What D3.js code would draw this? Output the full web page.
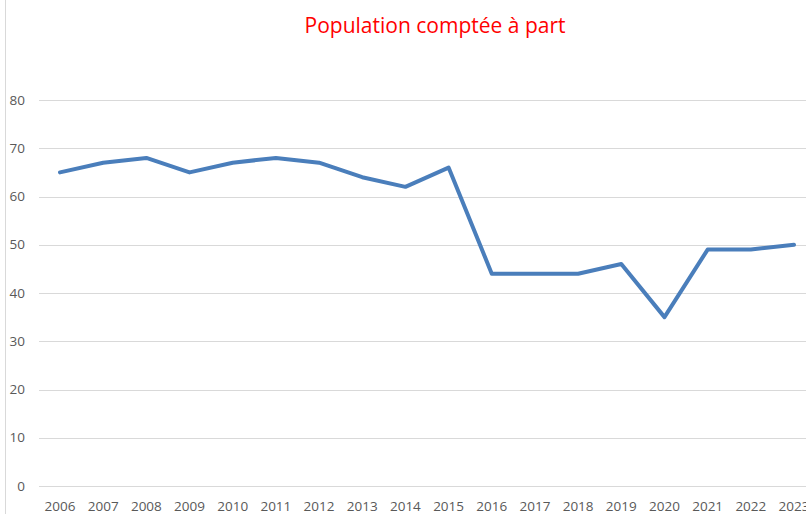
<!DOCTYPE html>
<html><head><meta charset="utf-8">
<script src="https://cdn.jsdelivr.net/npm/d3@7"></script>
<style>body{margin:0;background:#fff}svg{display:block}</style>
</head><body>
<svg id="c" width="806" height="514"></svg>
<script>
const years = ["2006","2007","2008","2009","2010","2011","2012","2013","2014","2015","2016","2017","2018","2019","2020","2021","2022","2023"];
const values = [65,67,68,65,67,68,67,64,62,66,44,44,44,46,35,49,49,50];
const yTicks = [0,10,20,30,40,50,60,70,80];
const title = "Population comptée à part";

const svg = d3.select("#c");
const font = "'Open Sans', sans-serif";
const x = d3.scalePoint().domain(years).range([60, 794]);
const y = d3.scaleLinear().domain([0, 80]).range([486, 100]);

// left border
svg.append("line").attr("x1",5.5).attr("x2",5.5).attr("y1",0).attr("y2",514)
  .attr("stroke","#d9d9d9").attr("stroke-width",1);

// gridlines
svg.append("g").selectAll("line").data(yTicks).join("line")
  .attr("x1",39).attr("x2",806)
  .attr("y1",d=>Math.round(y(d))+0.5).attr("y2",d=>Math.round(y(d))+0.5)
  .attr("stroke","#d9d9d9").attr("stroke-width",1);

// y labels
svg.append("g").selectAll("text").data(yTicks).join("text")
  .attr("x",25).attr("y",d=>y(d)).attr("dy","0.35em")
  .attr("text-anchor","end").attr("fill","#595959")
  .style("font-family",font).style("font-size","13.5px")
  .text(d=>d);

// x labels
svg.append("g").selectAll("text").data(years).join("text")
  .attr("x",d=>x(d)).attr("y",511)
  .attr("text-anchor","middle").attr("fill","#595959")
  .style("font-family",font).style("font-size","13.5px")
  .text(d=>d);

// line
const line = d3.line().x((d,i)=>x(years[i])).y(d=>y(d));
svg.append("path").datum(values).attr("d",line)
  .attr("fill","none").attr("stroke","#4a7ebb").attr("stroke-width",4)
  .attr("stroke-linejoin","round").attr("stroke-linecap","round");

// title
svg.append("text").attr("x",435).attr("y",33).attr("text-anchor","middle")
  .attr("fill","#ff0000").style("font-family",font).style("font-size","21px")
  .text(title);
</script>
</body></html>
